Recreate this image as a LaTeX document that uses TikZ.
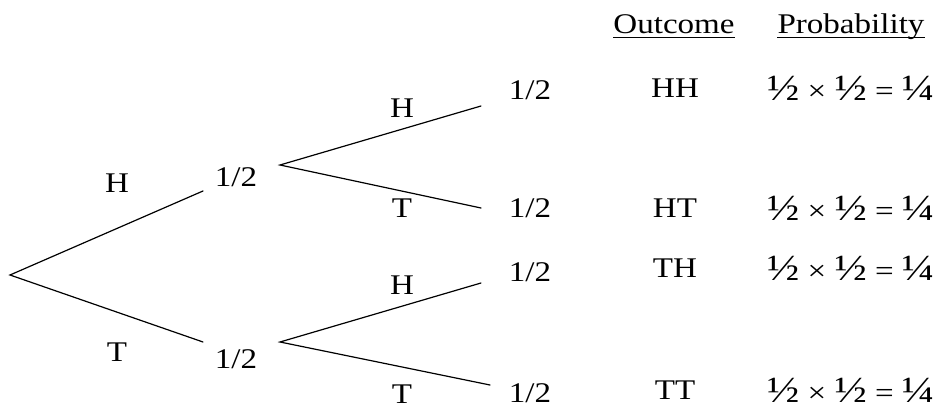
\documentclass[tikz,border=0pt]{standalone}
\usepackage{fontspec}
\setmainfont[FakeStretch=1.16]{Liberation Serif}
\newcommand\bigfr[1]{{\fontsize{37}{37}\selectfont #1}}
\newcommand\probtext{\bigfr{½} × \bigfr{½} = \bigfr{¼}}
\begin{document}
\begin{tikzpicture}[x=1pt,y=-1pt,
  lbl/.style={inner sep=0pt,anchor=base,font=\fontsize{28.5}{30}\selectfont},
  prob/.style={inner sep=0pt,anchor=base west,font=\fontsize{28.5}{30}\selectfont},
  branch/.style={line width=1.2pt,line cap=round}]
\useasboundingbox (0,0) rectangle (940,411);
% branch points
\coordinate (r) at (10,275);
\coordinate (a) at (203,191);
\coordinate (b) at (203,342);
\coordinate (au) at (280,165);
\coordinate (aa) at (481,106);
\coordinate (ab) at (481,208);
\coordinate (bu) at (280,342);
\coordinate (ba) at (481,283);
\coordinate (bb) at (490,385);
\draw[branch] (a) -- (r) -- (b);
\draw[branch] (aa) -- (au) -- (ab);
\draw[branch] (ba) -- (bu) -- (bb);
% labels
\node[lbl] (h1) at (117,193) {H};
\node[lbl] (t1) at (117,362) {T};
\node[lbl] (p1) at (236,187) {1/2};
\node[lbl] (p2) at (236,369) {1/2};
\node[lbl] (h2) at (402,118) {H};
\node[lbl] (t2) at (402,218) {T};
\node[lbl] (h3) at (402,295) {H};
\node[lbl] (t3) at (402,404) {T};
\node[lbl] (q1) at (530,100) {1/2};
\node[lbl] (q2) at (530,218) {1/2};
\node[lbl] (q3) at (530,282) {1/2};
\node[lbl] (q4) at (530,403) {1/2};
% headers
\node[lbl] (ho) at (674,34) {Outcome};
\node[lbl] (hp) at (851,34) {Probability};
\draw[line width=1pt] ([yshift=-4pt]ho.base west) -- ([yshift=-4pt]ho.base east);
\draw[line width=1pt] ([yshift=-4pt]hp.base west) -- ([yshift=-4pt]hp.base east);
% outcomes
\node[lbl] (o1) at (675,98) {HH};
\node[lbl] (o2) at (675,218) {HT};
\node[lbl] (o3) at (675,278) {TH};
\node[lbl] (o4) at (675,400) {TT};
\node[prob] (r1) at (767,101) {\probtext};
\node[prob] (r2) at (767,221) {\probtext};
\node[prob] (r3) at (767,281) {\probtext};
\node[prob] (r4) at (767,403) {\probtext};
\end{tikzpicture}
\end{document}
